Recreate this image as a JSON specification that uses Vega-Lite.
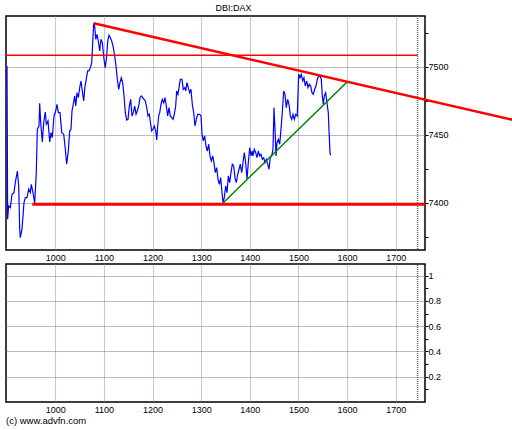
{
 "$schema": "https://vega.github.io/schema/vega-lite/v6.json",
 "background": "white",
 "padding": {"left": 3, "top": 3, "right": 0, "bottom": 0},
 "autosize": {"type": "pad"},
 "spacing": 14,
 "bounds": "flush",
 "config": {
  "view": {"stroke": "black", "strokeWidth": 1.5},
  "axis": {"labelFont": "Liberation Sans", "labelFontSize": 9, "labelColor": "black", "domain": false, "tickColor": "black", "title": null, "labelOverlap": false}
 },
 "datasets": {
  "price": [
   {"x":900.7,"y":7500.7},{"x":902,"y":7388},{"x":904,"y":7397.8},{"x":907.5,"y":7396.5},{"x":911,"y":7406.4},{"x":915,"y":7407.6},{"x":917.7,"y":7414.9},{"x":922,"y":7423.5},{"x":924.7,"y":7412.5},{"x":926.8,"y":7380.7},{"x":928,"y":7374.5},{"x":931.5,"y":7380.7},{"x":935.6,"y":7400.2},{"x":938.3,"y":7403.9},{"x":941.8,"y":7403.9},{"x":945.3,"y":7410.1},{"x":948.6,"y":7407.6},{"x":950.6,"y":7413.7},{"x":954.1,"y":7407.6},{"x":957.6,"y":7399.8},{"x":960.9,"y":7422.3},{"x":963,"y":7454.2},{"x":966.5,"y":7456.6},{"x":967.9,"y":7473.3},{"x":970,"y":7459},{"x":973.3,"y":7444.9},{"x":976.1,"y":7459},{"x":979.4,"y":7466.9},{"x":981.5,"y":7457.9},{"x":985,"y":7460.3},{"x":988.5,"y":7444.9},{"x":991.2,"y":7451.7},{"x":993.8,"y":7448},{"x":997.3,"y":7464},{"x":1000.8,"y":7467.6},{"x":1003.5,"y":7472.6},{"x":1006.2,"y":7466.4},{"x":1009.7,"y":7466.4},{"x":1013.2,"y":7451.7},{"x":1017.3,"y":7450.5},{"x":1020.6,"y":7439.5},{"x":1023.4,"y":7428.5},{"x":1026.7,"y":7438.2},{"x":1029.6,"y":7452.9},{"x":1032.3,"y":7454.2},{"x":1034.3,"y":7467.6},{"x":1037,"y":7472.6},{"x":1039.9,"y":7478.7},{"x":1042,"y":7471.3},{"x":1044.6,"y":7481.1},{"x":1047.3,"y":7477.4},{"x":1050.2,"y":7484.8},{"x":1052.8,"y":7489.7},{"x":1055.5,"y":7482.4},{"x":1058.4,"y":7475},{"x":1061.1,"y":7486},{"x":1063.7,"y":7491},{"x":1066.6,"y":7497.1},{"x":1069.3,"y":7497.1},{"x":1072,"y":7499.5},{"x":1074.9,"y":7503.2},{"x":1076.9,"y":7517.9},{"x":1079,"y":7532.1},{"x":1081,"y":7530.1},{"x":1083.1,"y":7520.4},{"x":1085.8,"y":7524},{"x":1088.4,"y":7519.1},{"x":1091.3,"y":7511.8},{"x":1094,"y":7520.4},{"x":1096.7,"y":7517.9},{"x":1100.1,"y":7505.7},{"x":1102.8,"y":7499.5},{"x":1105.7,"y":7508.1},{"x":1107.8,"y":7519.1},{"x":1110.4,"y":7523.3},{"x":1113.1,"y":7521.5},{"x":1116,"y":7519.1},{"x":1118.7,"y":7515.4},{"x":1122.2,"y":7508.1},{"x":1124.8,"y":7500.7},{"x":1127.5,"y":7491},{"x":1130.4,"y":7483.6},{"x":1133,"y":7488.5},{"x":1135.7,"y":7492.1},{"x":1138.6,"y":7488.5},{"x":1141.3,"y":7478.7},{"x":1144,"y":7466.4},{"x":1146.8,"y":7461},{"x":1149.5,"y":7461.5},{"x":1152.2,"y":7471.3},{"x":1155,"y":7476.2},{"x":1157.7,"y":7464},{"x":1160.4,"y":7466.4},{"x":1163.3,"y":7471.3},{"x":1166,"y":7465.2},{"x":1168.6,"y":7467.6},{"x":1171.5,"y":7471.3},{"x":1174.2,"y":7477.4},{"x":1176.9,"y":7478.7},{"x":1179.7,"y":7477.4},{"x":1182.4,"y":7476.2},{"x":1185.1,"y":7475},{"x":1188,"y":7470.1},{"x":1190.6,"y":7464},{"x":1193.3,"y":7465.2},{"x":1196.2,"y":7457.9},{"x":1198.2,"y":7452.9},{"x":1200.9,"y":7454.2},{"x":1203.6,"y":7456.6},{"x":1206.5,"y":7452.9},{"x":1208.5,"y":7446.3},{"x":1210.6,"y":7456.6},{"x":1212.6,"y":7464},{"x":1214.7,"y":7466.4},{"x":1217.4,"y":7472.6},{"x":1220,"y":7476.2},{"x":1222.9,"y":7473.7},{"x":1225.6,"y":7477.4},{"x":1228.3,"y":7471.3},{"x":1231.1,"y":7464},{"x":1233.8,"y":7470.1},{"x":1236.5,"y":7464},{"x":1239.4,"y":7462.7},{"x":1242,"y":7461.5},{"x":1244.7,"y":7465.2},{"x":1247.6,"y":7471.3},{"x":1249.6,"y":7482.4},{"x":1252.3,"y":7479.9},{"x":1254.4,"y":7484.8},{"x":1257.1,"y":7491},{"x":1260.5,"y":7491},{"x":1263.2,"y":7483.6},{"x":1266.1,"y":7484.8},{"x":1268.2,"y":7482.4},{"x":1270.8,"y":7488.5},{"x":1273.5,"y":7484.8},{"x":1276.4,"y":7481.1},{"x":1279,"y":7483.6},{"x":1281.7,"y":7472.6},{"x":1284.6,"y":7466.4},{"x":1287.3,"y":7456.6},{"x":1290,"y":7461.5},{"x":1292.8,"y":7465.2},{"x":1296.9,"y":7465.2},{"x":1299.6,"y":7464},{"x":1301.7,"y":7450.5},{"x":1304.3,"y":7445.6},{"x":1307.2,"y":7449.3},{"x":1309.9,"y":7441.9},{"x":1312.6,"y":7438.2},{"x":1315.5,"y":7443.2},{"x":1318.1,"y":7434.6},{"x":1320.8,"y":7430.9},{"x":1323.7,"y":7434.6},{"x":1326.3,"y":7429.6},{"x":1329,"y":7422.3},{"x":1331.9,"y":7426},{"x":1334.6,"y":7417.4},{"x":1337.3,"y":7413.7},{"x":1340.1,"y":7418.6},{"x":1342.8,"y":7407.6},{"x":1344.9,"y":7400.2},{"x":1347.5,"y":7403.9},{"x":1350.4,"y":7412.5},{"x":1353.1,"y":7407.6},{"x":1355.8,"y":7419.9},{"x":1358.6,"y":7414.9},{"x":1361.3,"y":7422.3},{"x":1364,"y":7428.5},{"x":1366.9,"y":7427.2},{"x":1369.5,"y":7418.6},{"x":1372.2,"y":7414.9},{"x":1375.1,"y":7421.1},{"x":1377.8,"y":7424.8},{"x":1380.4,"y":7428.5},{"x":1383.3,"y":7422.3},{"x":1386,"y":7429.6},{"x":1388.7,"y":7437},{"x":1391.5,"y":7429.6},{"x":1394.2,"y":7417.4},{"x":1396.9,"y":7429.6},{"x":1399.8,"y":7440.7},{"x":1402.4,"y":7434.6},{"x":1405.1,"y":7438.2},{"x":1406.5,"y":7434.6},{"x":1409.2,"y":7439.5},{"x":1412.1,"y":7437},{"x":1414.8,"y":7433.3},{"x":1417.5,"y":7438.2},{"x":1420.3,"y":7434.6},{"x":1423,"y":7435.8},{"x":1425.7,"y":7432.1},{"x":1428.6,"y":7433.3},{"x":1431.2,"y":7429.6},{"x":1433.9,"y":7432.1},{"x":1436.8,"y":7428.5},{"x":1439.5,"y":7424.8},{"x":1442.1,"y":7433.3},{"x":1445,"y":7434.6},{"x":1447.7,"y":7439.5},{"x":1449.7,"y":7470.1},{"x":1451.8,"y":7454.2},{"x":1453.9,"y":7434.6},{"x":1455.9,"y":7444.3},{"x":1458.6,"y":7446.8},{"x":1461.5,"y":7443.2},{"x":1464.1,"y":7454.2},{"x":1466.8,"y":7466.4},{"x":1469.7,"y":7482.4},{"x":1472.4,"y":7479.9},{"x":1475,"y":7470.1},{"x":1477.9,"y":7476.2},{"x":1480.6,"y":7472.6},{"x":1483.3,"y":7464},{"x":1486.1,"y":7461.5},{"x":1488.8,"y":7465.2},{"x":1491.5,"y":7461.5},{"x":1494.4,"y":7465.2},{"x":1497.6,"y":7464},{"x":1500.5,"y":7494.6},{"x":1503.2,"y":7492.1},{"x":1505.9,"y":7494.6},{"x":1508.8,"y":7489.7},{"x":1511.4,"y":7492.1},{"x":1514.1,"y":7486},{"x":1517,"y":7489.7},{"x":1519.7,"y":7484.8},{"x":1522.3,"y":7487.3},{"x":1525.2,"y":7486},{"x":1527.9,"y":7481.1},{"x":1530.6,"y":7479.9},{"x":1533.4,"y":7483.6},{"x":1536.1,"y":7486},{"x":1538.8,"y":7491},{"x":1541.7,"y":7493.4},{"x":1544.3,"y":7493.4},{"x":1547,"y":7491},{"x":1549.1,"y":7478.7},{"x":1551.1,"y":7472.6},{"x":1553.2,"y":7478.7},{"x":1556,"y":7481.1},{"x":1558.7,"y":7473.7},{"x":1561.4,"y":7466.4},{"x":1563.4,"y":7449.3},{"x":1564.9,"y":7437},{"x":1566.3,"y":7435.1}
  ],
  "trend": [{"x": 1079, "y": 7532.1}, {"x": 1950, "y": 7460.4}],
  "uptrend": [{"x": 1345, "y": 7400}, {"x": 1600, "y": 7489}],
  "support": [{"x": 952.7, "x2": 1760, "y": 7399}],
  "level": [{"x": 898.6, "x2": 1745, "y": 7508.6}],
  "marker": [{"x": 1745}]
 },
 "vconcat": [
  {
   "width": 419,
   "height": 234,
   "title": {"text": "DBI:DAX", "anchor": "middle", "frame": "group", "dx": 18, "offset": 2, "fontSize": 9, "font": "Liberation Sans", "fontWeight": "normal", "color": "black"},
   "resolve": {"scale": {"y": "shared"}, "axis": {"y": "independent"}},
   "layer": [
    {
     "data": {"name": "marker"},
     "mark": {"type": "rule", "color": "#4d6f6f", "strokeDash": [1, 1], "strokeWidth": 1.5},
     "encoding": {
      "x": {"field": "x", "type": "quantitative", "scale": {"domain": [898.6, 1760.3], "nice": false, "zero": false},
            "axis": {"values": [1000, 1100, 1200, 1300, 1400, 1500, 1600, 1700], "format": "d", "ticks": false, "labelPadding": 3, "grid": true, "gridColor": "#7a9a9a", "gridDash": [1, 1], "gridWidth": 1}}
     }
    },
    {
     "data": {"name": "price"},
     "mark": {"type": "line", "color": "#0000ff", "strokeWidth": 1.2},
     "encoding": {
      "x": {"field": "x", "type": "quantitative"},
      "y": {"field": "y", "type": "quantitative", "scale": {"domain": [7365.4, 7537.5], "nice": false, "zero": false},
            "axis": {"orient": "right", "values": [7400, 7450, 7500], "format": "d", "tickSize": 3, "labelPadding": 0,
                     "grid": true, "gridColor": "#777777", "gridDash": [1, 1]}}
     }
    },
    {
     "data": {"name": "level"},
     "mark": {"type": "rule", "color": "#ff0000", "strokeWidth": 1.5},
     "encoding": {
      "x": {"field": "x", "type": "quantitative"},
      "x2": {"field": "x2"},
      "y": {"field": "y", "type": "quantitative",
            "axis": {"orient": "right", "values": [7375, 7425, 7475, 7525], "tickSize": 3, "labels": false, "grid": false}}
     }
    },
    {
     "data": {"name": "support"},
     "mark": {"type": "rule", "color": "#ff0000", "strokeWidth": 3},
     "encoding": {
      "x": {"field": "x", "type": "quantitative"},
      "x2": {"field": "x2"},
      "y": {"field": "y", "type": "quantitative", "axis": null}
     }
    },
    {
     "data": {"name": "trend"},
     "mark": {"type": "line", "color": "#ff0000", "strokeWidth": 2.5},
     "encoding": {
      "x": {"field": "x", "type": "quantitative"},
      "y": {"field": "y", "type": "quantitative", "axis": null}
     }
    },
    {
     "data": {"name": "uptrend"},
     "mark": {"type": "line", "color": "#008000", "strokeWidth": 1.5},
     "encoding": {
      "x": {"field": "x", "type": "quantitative"},
      "y": {"field": "y", "type": "quantitative", "axis": null}
     }
    }
   ]
  },
  {
   "width": 419,
   "height": 138,
   "title": {"text": "(c) www.advfn.com", "orient": "bottom", "anchor": "start", "frame": "group", "offset": 2, "fontSize": 9.5, "font": "Liberation Sans", "fontWeight": "normal", "color": "black"},
   "data": {"name": "marker"},
   "mark": {"type": "rule", "color": "#4d6f6f", "strokeDash": [1, 1], "strokeWidth": 1.5},
   "encoding": {
    "x": {"field": "x", "type": "quantitative", "scale": {"domain": [898.6, 1760.3], "nice": false, "zero": false},
          "axis": {"values": [1000, 1100, 1200, 1300, 1400, 1500, 1600, 1700], "format": "d", "ticks": false, "labelPadding": 3, "grid": true, "gridColor": "#7a9a9a", "gridDash": [1, 1], "gridWidth": 1}},
    "y": {"datum": 0, "type": "quantitative", "scale": {"domain": [0, 1.093], "nice": false, "zero": false},
          "axis": {"orient": "right", "values": [0.1, 0.2, 0.3, 0.4, 0.5, 0.6, 0.7, 0.8, 0.9, 1.0], "format": "~g", "tickSize": 3, "labelPadding": 0,
                   "labelExpr": "round(datum.value * 10) % 2 == 0 ? datum.label : ''",
                   "grid": true, "gridColor": "#777777", "gridDash": [1, 1],
                   "gridOpacity": {"condition": {"test": "round(datum.value * 10) % 2 == 0", "value": 1}, "value": 0}}},
    "y2": {"datum": 1.093}
   }
  }
 ]
}
